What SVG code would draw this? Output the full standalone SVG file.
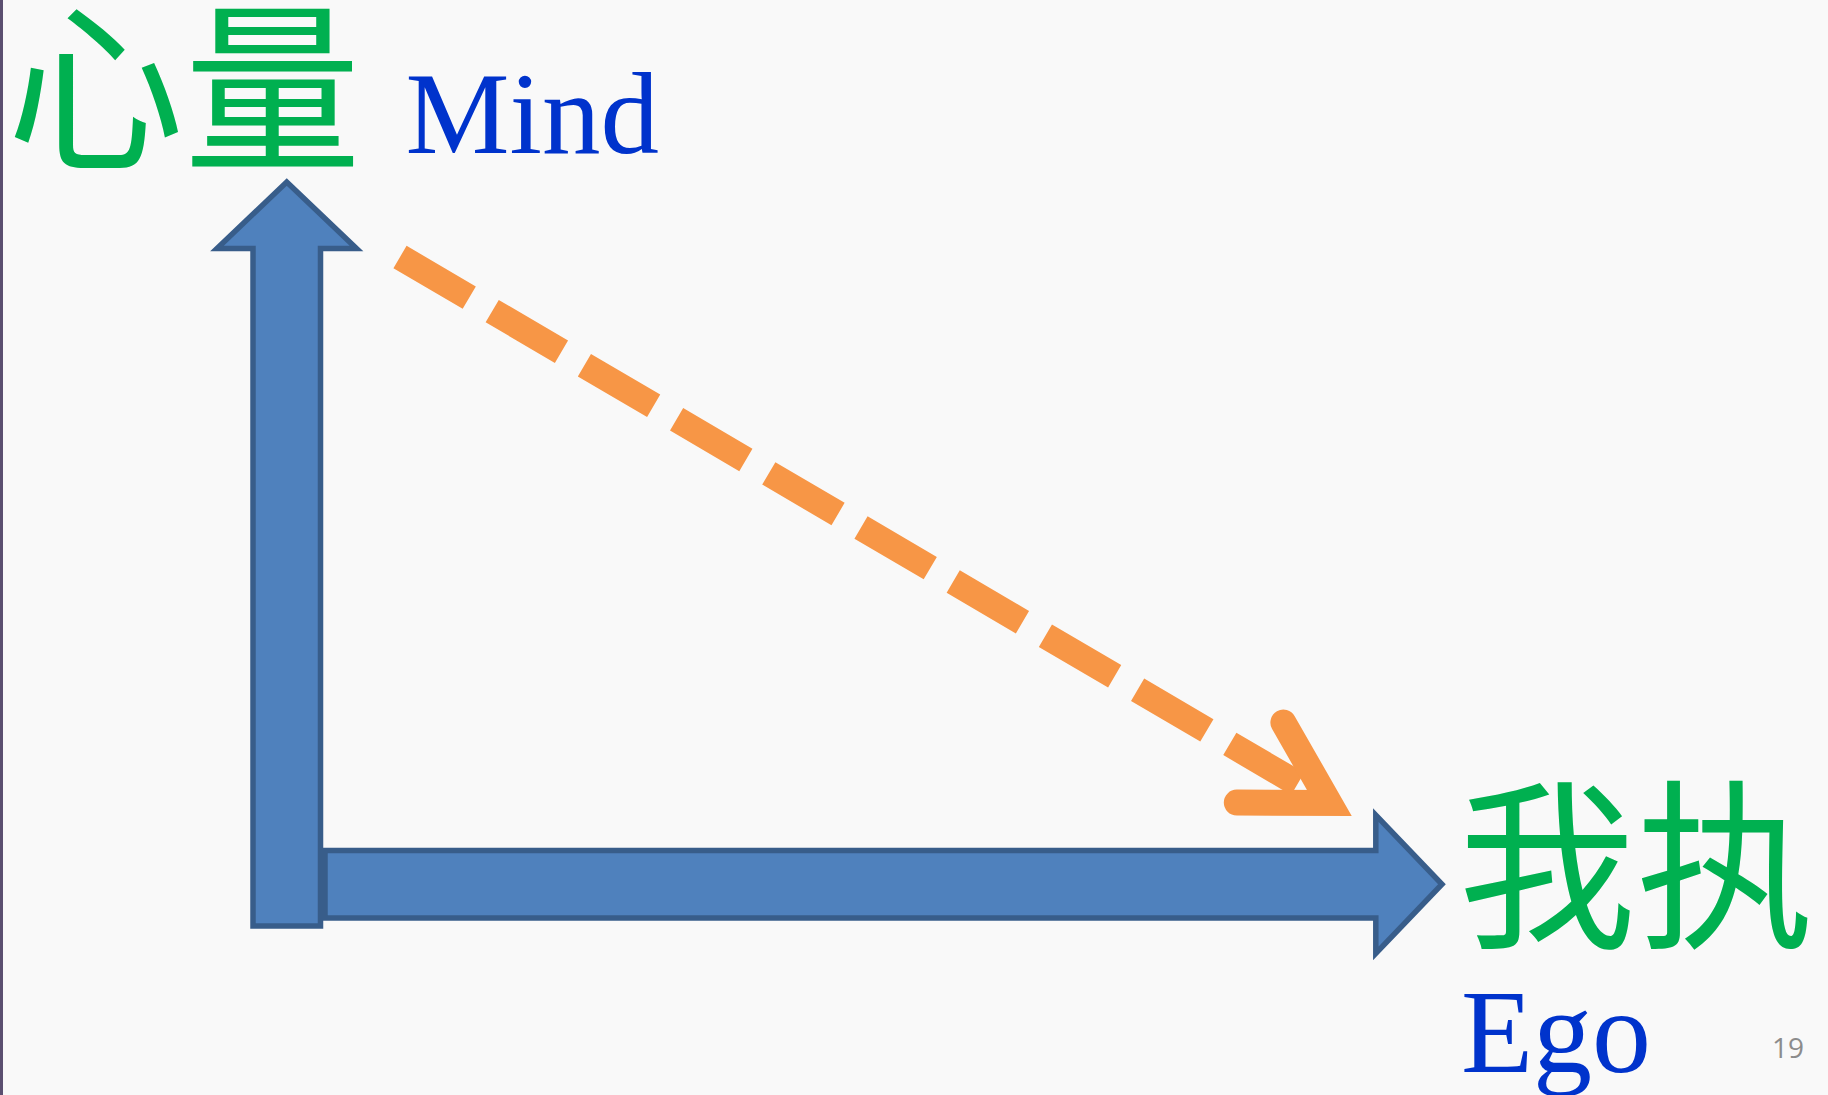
<svg xmlns="http://www.w3.org/2000/svg" width="1828" height="1095" viewBox="0 0 1828 1095">
  <style>
    .axis { fill: #4f81bd; stroke: #385d8a; stroke-width: 5.5; stroke-linejoin: miter; }
    .cjk { font-family: "Noto Sans CJK SC", "Noto Sans CJK JP", sans-serif; fill: #00b050; }
    .en { font-family: "Liberation Serif", "Times New Roman", serif; fill: #0033cc; }
    .flow { fill: none; stroke: #f79646; stroke-width: 26; }
    .page { font-family: "Open Sans", "Liberation Sans", sans-serif; fill: #8c8c8c; font-size: 28px; }
  </style>
  <rect x="0" y="0" width="1828" height="1095" fill="#f9f9f9"/>
  <rect x="0" y="0" width="3" height="1095" fill="#5b4f70"/>

  <g id="node-mind-axis">
    <path class="axis" d="M253,926 L253,248.5 L217,248.5 L286.75,182 L356.5,248.5 L320.5,248.5 L320.5,926 Z"/>
  </g>
  <g id="node-ego-axis">
    <path class="axis" d="M325,850.5 L1375.8,850.5 L1375.8,815 L1442,884.25 L1375.8,953.5 L1375.8,918 L325,918 Z"/>
  </g>

  <g id="node-mind-label">
    <text class="cjk" x="7" y="156" font-size="182" textLength="354" lengthAdjust="spacingAndGlyphs">心量</text>
    <text class="en" x="405.5" y="153" font-size="117">Mind</text>
  </g>
  <g id="node-ego-label">
    <text class="cjk" x="1458" y="934" font-size="182" textLength="356" lengthAdjust="spacingAndGlyphs">我执</text>
    <text class="en" x="1461" y="1072" font-size="118">Ego</text>
  </g>

  <g id="connectors">
    <path class="flow" d="M400,257 L1297.7,783.7" stroke-dasharray="80.3 26.6" stroke-linecap="butt"/>
    <path class="flow" d="M1283.4,722.6 L1329.3,802.9 L1236.8,802.6" stroke-linecap="round" stroke-linejoin="miter"/>
  </g>

  <text class="page" x="1772" y="1058">19</text>
</svg>
